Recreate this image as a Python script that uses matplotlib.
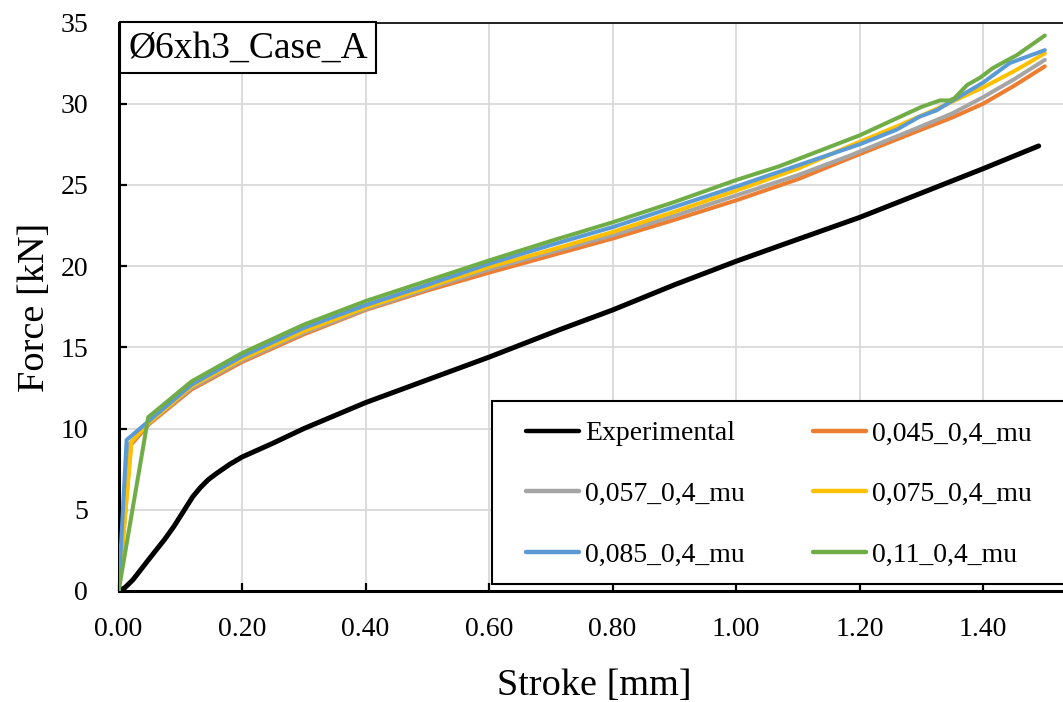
import matplotlib
matplotlib.use("Agg")
import matplotlib.pyplot as plt
from matplotlib.patches import Rectangle

plt.rcParams['font.family'] = ['Liberation Serif', 'DejaVu Serif']

# ---------------- data ----------------
exp_x = [0, 0.01, 0.023, 0.05, 0.075, 0.09, 0.1, 0.11, 0.12, 0.132, 0.145, 0.159, 0.18, 0.2, 0.25, 0.3,
         0.4, 0.5, 0.6, 0.715, 0.8, 0.9, 1.0, 1.07, 1.2, 1.3, 1.4, 1.49]
exp_f = [0, 0.2, 0.68, 2.0, 3.2, 4.0, 4.6, 5.2, 5.8, 6.35, 6.85, 7.25, 7.8, 8.25, 9.1, 10.0,
         11.6, 13.0, 14.4, 16.1, 17.3, 18.85, 20.3, 21.25, 23.0, 24.5, 26.0, 27.4]

s045_x = [0, 0.02, 0.05, 0.118, 0.2, 0.3, 0.4, 0.5, 0.6, 0.7, 0.8, 0.9, 1.0, 1.1, 1.184, 1.293, 1.35, 1.4,
          1.45, 1.5]
s045_f = [0, 9.0, 10.3, 12.4, 14.1, 15.8, 17.3, 18.5, 19.6, 20.65, 21.7, 22.85, 24.05, 25.35, 26.65, 28.3,
          29.15, 30.0, 31.1, 32.3]

s057_x = [0, 0.018, 0.05, 0.118, 0.2, 0.3, 0.4, 0.5, 0.6, 0.7, 0.8, 0.9, 1.0, 1.1, 1.184, 1.293, 1.35, 1.4,
          1.45, 1.5]
s057_f = [0, 9.05, 10.4, 12.5, 14.2, 15.9, 17.35, 18.6, 19.8, 20.85, 21.9, 23.1, 24.35, 25.6, 26.8, 28.5,
          29.4, 30.4, 31.5, 32.7]

s075_x = [0, 0.021, 0.05, 0.118, 0.2, 0.3, 0.4, 0.5, 0.6, 0.7, 0.8, 0.9, 1.0, 1.1, 1.184, 1.26, 1.32, 1.4,
          1.45, 1.5]
s075_f = [0, 9.2, 10.4, 12.6, 14.3, 16.0, 17.45, 18.7, 19.95, 21.0, 22.1, 23.35, 24.65, 26.0, 27.4, 28.6,
          29.6, 31.0, 32.0, 33.1]

s085_x = [0, 0.013, 0.05, 0.118, 0.2, 0.3, 0.4, 0.5, 0.6, 0.7, 0.8, 0.9, 1.0, 1.1, 1.2, 1.26, 1.297, 1.325,
          1.351, 1.4, 1.443, 1.5]
s085_f = [0, 9.3, 10.5, 12.7, 14.45, 16.2, 17.6, 18.85, 20.15, 21.3, 22.4, 23.65, 24.9, 26.2, 27.5, 28.4,
          29.2, 29.6, 30.2, 31.3, 32.5, 33.3]

s110_x = [0, 0.048, 0.118, 0.2, 0.3, 0.4, 0.5, 0.6, 0.7, 0.8, 0.9, 1.0, 1.07, 1.2, 1.3, 1.33, 1.346, 1.354,
          1.374, 1.395, 1.416, 1.455, 1.5]
s110_f = [0, 10.7, 12.9, 14.65, 16.4, 17.85, 19.1, 20.35, 21.55, 22.7, 23.95, 25.3, 26.15, 28.05, 29.8, 30.2,
          30.2, 30.35, 31.15, 31.6, 32.2, 33.0, 34.2]

labels = ['Experimental', '0,045_0,4_mu', '0,057_0,4_mu', '0,075_0,4_mu', '0,085_0,4_mu', '0,11_0,4_mu']
colors = ['#000000', '#ED7D31', '#A5A5A5', '#FFC000', '#5B9BD5', '#70AD47']

x_ticks = [0.0, 0.2, 0.4, 0.6, 0.8, 1.0, 1.2, 1.4]
y_ticks = [0, 5, 10, 15, 20, 25, 30, 35]
title_text = 'Ø6xh3_Case_A'
xlabel = 'Stroke [mm]'
ylabel = 'Force [kN]'

# ---------------- figure ----------------
W, H = 1063, 702
fig = plt.figure(figsize=(W / 100, H / 100), dpi=100)
L, R, T, B = 118.6, 1063, 22.5, 591
ax = fig.add_axes([L / W, 1 - B / H, (R - L) / W, (B - T) / H])

series = [(exp_x, exp_f), (s045_x, s045_f), (s057_x, s057_f), (s075_x, s075_f),
          (s085_x, s085_f), (s110_x, s110_f)]
handles = []
for i, ((xs, fs), lab, col) in enumerate(zip(series, labels, colors)):
    lw = 3.6 if i == 0 else 2.9
    h, = ax.plot(xs, fs, color=col, lw=lw, label=lab, solid_joinstyle='round',
                 solid_capstyle='round', zorder=3 + i)
    handles.append(h)

ax.set_xlim(0, (R - L) / 617.5)
ax.set_ylim(0, 35)
ax.set_xticks(x_ticks)
ax.set_xticklabels([f'{v:.2f}' for v in x_ticks])
ax.set_yticks(y_ticks)
ax.grid(True, color='#d9d9d9', lw=1.3, zorder=0)
ax.set_axisbelow(True)

for s in ['left', 'bottom']:
    ax.spines[s].set_linewidth(2.2)
    ax.spines[s].set_color('black')
ax.spines['top'].set_linewidth(1.2)
ax.spines['right'].set_visible(False)

ax.tick_params(axis='both', direction='in', length=6, width=1.6, labelsize=20, colors='black')
ax.tick_params(axis='y', pad=22)
ax.tick_params(axis='x', pad=19)
ax.tick_params(top=False, right=False)

ax.set_xlabel(xlabel, fontsize=27.5)
ax.set_ylabel(ylabel, fontsize=27.5)
ax.xaxis.set_label_coords((594 - L) / (R - L), -(686 - B) / (B - T))
ax.xaxis.label.set_va('center')
ax.yaxis.set_label_coords(-(L - 35) / (R - L), (B - 307) / (B - T))
ax.yaxis.label.set_va('center')

# title box
fig.add_artist(Rectangle((120 / W, 1 - 73 / H), (376 - 120) / W, (73 - 22) / H,
                         transform=fig.transFigure, facecolor='white', edgecolor='black',
                         lw=1.5, zorder=2))
fig.text(248 / W, 1 - 48 / H, title_text, fontsize=27, ha='center', va='center', zorder=3)

# legend box
fig.add_artist(Rectangle((492 / W, 1 - 584 / H), (1080 - 492) / W, (584 - 401) / H,
                         transform=fig.transFigure, facecolor='white', edgecolor='black',
                         lw=1.5, zorder=2))
order = [0, 2, 4, 1, 3, 5]
leg = fig.legend([handles[i] for i in order], [labels[i] for i in order],
                 loc='upper left', bbox_to_anchor=(526 / W, 1 - 421 / H),
                 bbox_transform=fig.transFigure, ncol=2, frameon=False,
                 fontsize=20, handlelength=1.9, handletextpad=0.22, borderpad=0,
                 borderaxespad=0, labelspacing=1.27, columnspacing=2.45)
leg.set_zorder(5)
for lh in leg.legend_handles:
    lh.set_linewidth(3.2)
    lh.set_solid_capstyle('round')

fig.savefig('out.png', dpi=100)
